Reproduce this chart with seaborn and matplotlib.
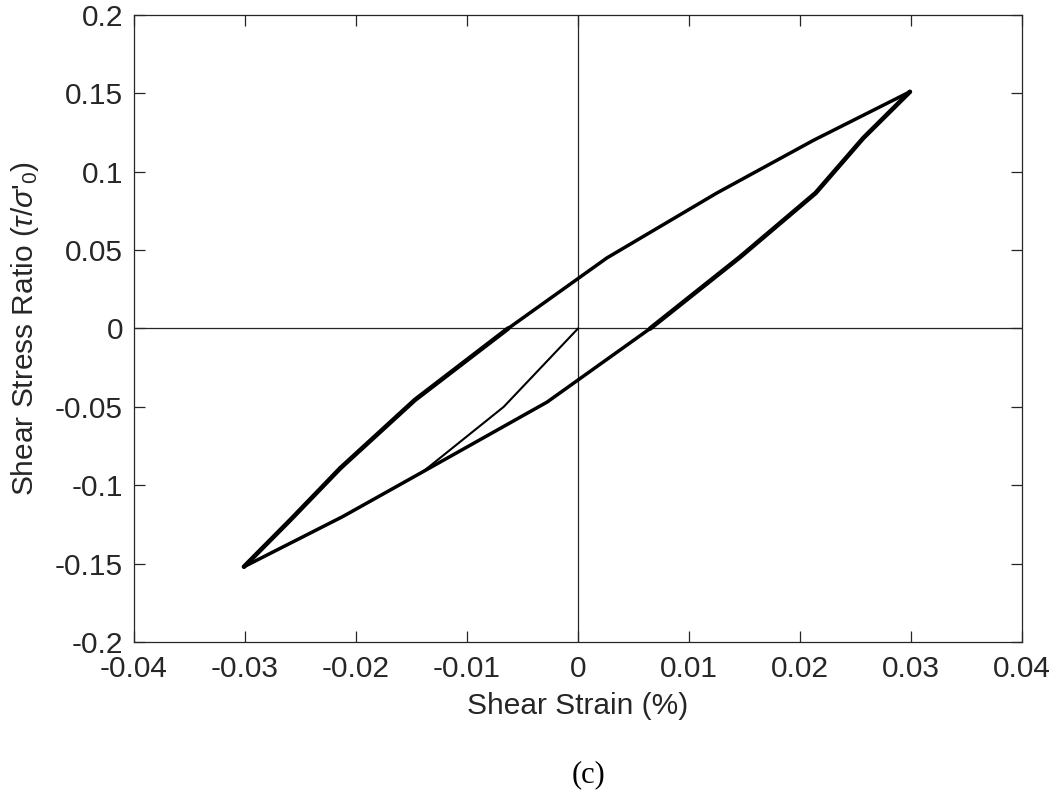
import matplotlib
matplotlib.use("Agg")
import matplotlib.pyplot as plt
import seaborn as sns
import pandas as pd

# ---- data ----
initial_x = [0.0, -0.0067, -0.0140, -0.0212, -0.0301]
initial_y = [0.0, -0.050, -0.0915, -0.120, -0.152]

reload_x = [-0.0301, -0.0259, -0.0214, -0.0147, -0.0063, 0.0026, 0.0125, 0.0212, 0.0299]
reload_y = [-0.152, -0.122, -0.089, -0.0456, 0.0, 0.045, 0.0864, 0.120, 0.151]

unload_x = [0.0299, 0.0257, 0.0214, 0.0146, 0.0065, -0.0028, -0.0140, -0.0212, -0.0301]
unload_y = [0.151, 0.1215, 0.0864, 0.0456, 0.0, -0.047, -0.0915, -0.120, -0.152]

x_ticks = [-0.04, -0.03, -0.02, -0.01, 0, 0.01, 0.02, 0.03, 0.04]
x_ticklabels = ["-0.04", "-0.03", "-0.02", "-0.01", "0", "0.01", "0.02", "0.03", "0.04"]
y_ticks = [-0.2, -0.15, -0.1, -0.05, 0, 0.05, 0.1, 0.15, 0.2]
y_ticklabels = ["-0.2", "-0.15", "-0.1", "-0.05", "0", "0.05", "0.1", "0.15", "0.2"]

sns.set_theme(style="ticks")
plt.rcParams["font.family"] = ["Liberation Sans", "DejaVu Sans"]
plt.rcParams["mathtext.fontset"] = "custom"
plt.rcParams["mathtext.it"] = "Liberation Sans:italic"
plt.rcParams["mathtext.rm"] = "Liberation Sans"

fig = plt.figure(figsize=(10.53, 7.92), dpi=100)
ax = fig.add_axes([0.1273, 0.1894, 0.8433, 0.7917])

dark = "#262626"
ax.axhline(0, color=dark, lw=0.9, zorder=1)
ax.axvline(0, color=dark, lw=0.9, zorder=1)

df_init = pd.DataFrame({"x": initial_x, "y": initial_y})
df_rel = pd.DataFrame({"x": reload_x, "y": reload_y})
df_unl = pd.DataFrame({"x": unload_x, "y": unload_y})

# thin first loading path
sns.lineplot(data=df_init, x="x", y="y", sort=False, estimator=None, color="black", lw=1.5, ax=ax, zorder=3)
# repeated cycles: the steep parts overlap more and look heavier
sns.lineplot(data=df_rel.iloc[:5], x="x", y="y", sort=False, estimator=None, color="black", lw=3.3, ax=ax, zorder=3)
sns.lineplot(data=df_rel.iloc[4:], x="x", y="y", sort=False, estimator=None, color="black", lw=2.5, ax=ax, zorder=3)
sns.lineplot(data=df_unl.iloc[:5], x="x", y="y", sort=False, estimator=None, color="black", lw=3.3, ax=ax, zorder=3)
sns.lineplot(data=df_unl.iloc[4:], x="x", y="y", sort=False, estimator=None, color="black", lw=2.5, ax=ax, zorder=3)

ax.set_xlim(-0.04, 0.04)
ax.set_ylim(-0.2, 0.2)
ax.set_xticks(x_ticks)
ax.set_xticklabels(x_ticklabels)
ax.set_yticks(y_ticks)
ax.set_yticklabels(y_ticklabels)
ax.tick_params(direction="in", length=8, width=0.9, colors=dark, labelsize=21.5,
               top=True, right=True)
ax.tick_params(axis="x", pad=9.5)
ax.tick_params(axis="y", pad=8)
for s in ax.spines.values():
    s.set_visible(True)
    s.set_color(dark)
    s.set_linewidth(0.9)

ax.set_xlabel("Shear Strain (%)", fontsize=21.5, color=dark, labelpad=6)
ax.set_ylabel(r"Shear Stress Ratio ($\tau/\sigma$'$_0$)", fontsize=21.5, color=dark, labelpad=10)

fig.text(0.559, 0.022, "(c)", fontsize=22, family=["Liberation Serif", "DejaVu Serif"],
         ha="center", va="center", color="black")

fig.savefig("out.png", dpi=100)
